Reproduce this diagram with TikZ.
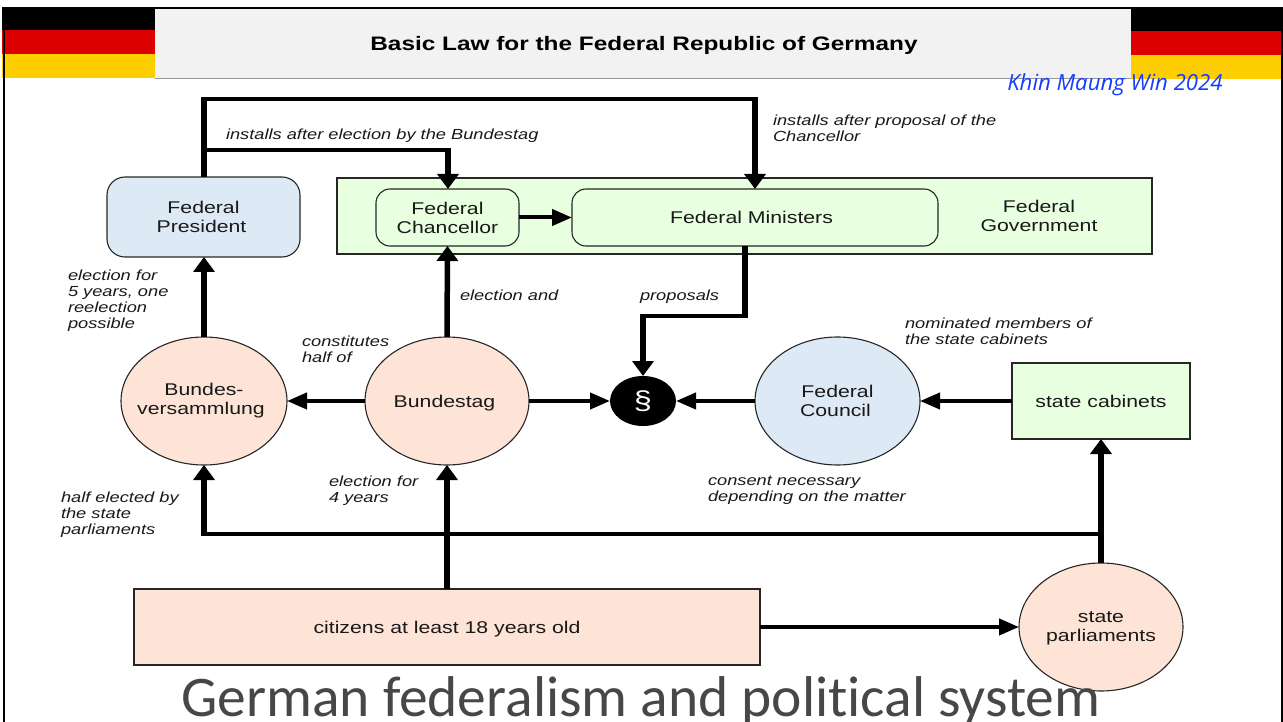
\documentclass[tikz,border=0pt]{standalone}
\usepackage{fontspec}
\setmainfont{Liberation Sans}
\newfontfamily\widef[FakeStretch=1.25]{Liberation Sans}
\newfontfamily\bluef{Open Sans}
\newfontfamily\titlef[RawFeature=-liga]{Carlito}
\usetikzlibrary{arrows.meta,shapes.geometric}
\definecolor{peach}{HTML}{FDE4D6}
\definecolor{paleblue}{HTML}{DEE9F6}
\definecolor{palegreen}{HTML}{E8FFE0}
\definecolor{flagred}{HTML}{DD0000}
\definecolor{flaggold}{HTML}{FFCE00}
\definecolor{bandgrey}{HTML}{F2F2F2}
\tikzset{
  x=1pt,y=-1pt,
  every node/.style={outer sep=0pt,inner sep=0pt},
  boxed/.style={draw=black!85,line width=1.1pt,rectangle,align=center,text=black!90,font=\widef\fontsize{17}{19}\selectfont},
  oval/.style={boxed,ellipse,inner xsep=-25pt,inner ysep=-5pt},
  note/.style={align=left,anchor=west,text=black!90,font=\widef\itshape\fontsize{14.6}{16}\selectfont},
  hconn/.style={line width=4pt,-{Triangle[length=20pt,width=16pt]}},
  vconn/.style={line width=5.5pt,-{Triangle[length=15pt,width=21pt]}},
  hseg/.style={line width=4pt,shorten <=-2.75pt,shorten >=-2.75pt},
  vseg/.style={line width=5.5pt,shorten >=-2pt},
}
\begin{document}
\begin{tikzpicture}
\useasboundingbox (0,0) rectangle (1283,722);
% slide frame and flags
\fill[bandgrey] (155,9) rectangle (1131,78);
\draw[black!40,line width=0.8pt] (155,78) -- (1131,78);
\fill[black] (155,7) rectangle (1131,9);
\fill[black] (2,7) rectangle (155,30);
\fill[flagred] (2,30) rectangle (155,54);
\fill[flaggold] (2,54) rectangle (155,78);
\fill[black] (1131,7) rectangle (1283,31);
\fill[flagred] (1131,31) rectangle (1281,55);
\fill[flaggold] (1131,55) rectangle (1281,79);
\fill[black] (3,30) rectangle (5,722);
\fill[black] (1281,31) rectangle (1283,722);
\node[font=\widef\bfseries\fontsize{19.5}{22}\selectfont] (title) at (644,45.5) {Basic Law for the Federal Republic of Germany};
\node[font=\bluef\itshape\fontsize{22.2}{24}\selectfont,text={rgb,255:red,20;green,60;blue,255}] (author) at (1115,85) {Khin Maung Win 2024};
% boxes
\node[boxed,rounded corners=18pt,fill=paleblue,minimum width=193pt,minimum height=80pt] (president) at (203.5,217) {Federal\\\hspace*{-4pt}President};
\node[boxed,fill=palegreen,minimum width=815pt,minimum height=76pt] (government) at (744.5,216) {};
\node[boxed,rounded corners=14pt,fill=palegreen,minimum width=143pt,minimum height=57pt] (chancellor) at (447.5,217.5) {Federal\\Chancellor};
\node[boxed,rounded corners=14pt,fill=palegreen,minimum width=366pt,minimum height=57pt] (ministers) at (755,217.5) {\hspace*{-7pt}Federal Ministers};
\node[align=center,text=black!90,font=\widef\fontsize{17}{19}\selectfont] (govlabel) at (1039,216) {Federal\\Government};
\node[oval,fill=peach,minimum width=166pt,minimum height=128pt] (bv) at (204,401) {Bundes-\\\hspace*{-6pt}versammlung};
\node[oval,fill=peach,minimum width=164pt,minimum height=128pt,text depth=0pt] (bt) at (447,401) {\hspace*{-5pt}Bundestag};
\node[ellipse,fill=black,text=white,minimum width=66pt,minimum height=50pt,font=\widef\fontsize{26}{28}\selectfont] (law) at (643,401) {§};
\node[oval,fill=paleblue,minimum width=165pt,minimum height=128pt] (council) at (837.5,401) {Federal\\\hspace*{-4pt}Council};
\node[boxed,fill=palegreen,minimum width=178pt,minimum height=76pt] (cabinets) at (1101,401) {state cabinets};
\node[boxed,fill=peach,minimum width=626pt,minimum height=76pt,text depth=0pt] (citizens) at (447,627) {citizens at least 18 years old};
\node[oval,fill=peach,minimum width=164pt,minimum height=128pt,text depth=-4pt] (parl) at (1101,627) {state\\parliaments};
% junctions
\coordinate (topL) at (204,99);
\coordinate (topR) at (755,99);
\coordinate (midL) at (204,150);
\coordinate (midR) at (448,150);
\coordinate (minin) at (755,189);
\coordinate (minout) at (745,246);
\coordinate (bendA) at (745,316);
\coordinate (bendB) at (643,316);
\coordinate (junR) at (1101,534);
\coordinate (junL) at (204,534);
% connectors
\draw[vseg] (president.north -| topL) -- (topL);
\draw[hseg] (topL) -- (topR);
\draw[vconn] (topR) -- (minin);
\draw[hseg] (midL) -- (midR);
\draw[vconn] (midR) -- (chancellor.north -| midR);
\draw[hconn] (chancellor) -- (ministers);
\draw[vconn] (bv.north) -- (president.south -| bv.north);
\draw[vconn] (bt.north) -- (chancellor.south);
\draw[hconn] (bt) -- (bv);
\draw[hconn] (bt) -- (law);
\draw[vseg] (minout) -- (bendA);
\draw[hseg] (bendA) -- (bendB);
\draw[vconn] (bendB) -- (law.north);
\draw[hconn] (council) -- (law);
\draw[hconn] (cabinets) -- (council);
\draw[vconn] (citizens.north -| bt.south) -- (bt.south);
\draw[hconn] (citizens) -- (parl);
\draw[vconn] (parl.north) -- (cabinets.south);
\draw[hseg] (junR) -- (junL);
\draw[vconn] (junL) -- (bv.south);
% labels
\node[note] (n1) at (226,136) {installs after election by the Bundestag};
\node[note] (n2) at (773,128) {installs after proposal of the\\Chancellor};
\node[note] (n3) at (68,301) {election for\\5 years, one\\reelection\\possible};
\node[note] (n4) at (460,295) {election and};
\node[note] (n5) at (640,297) {proposals};
\node[note] (n6) at (302,349) {constitutes\\half of};
\node[note] (n7) at (905,331) {nominated members of\\the state cabinets};
\node[note] (n8) at (329,491) {election for\\4 years};
\node[note] (n9) at (708,490) {consent necessary\\depending on the matter};
\node[note] (n10) at (61,514.5) {half elected by\\the state\\parliaments};
\node[anchor=base,font=\titlef\fontsize{57.5}{60}\selectfont,text=black!72] (slidetitle) at (641,716) {German federalism and political system};
\end{tikzpicture}
\end{document}
